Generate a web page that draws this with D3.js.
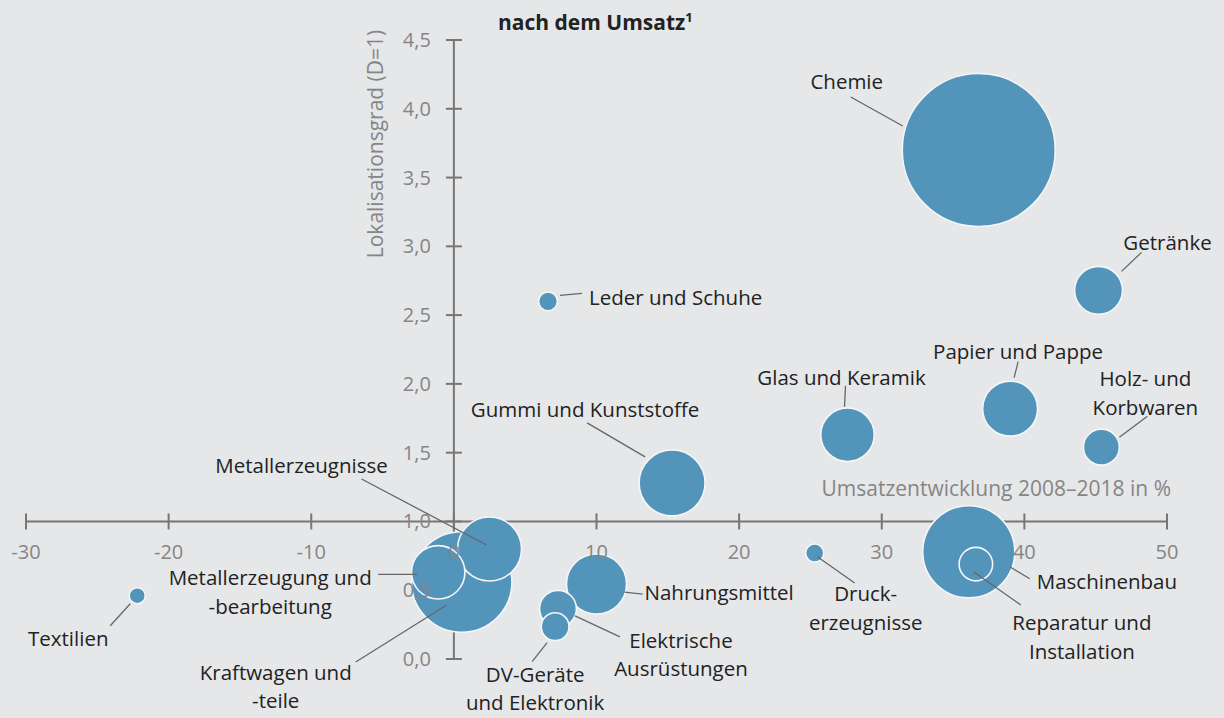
<!DOCTYPE html>
<html>
<head>
<meta charset="utf-8">
<script src="https://cdn.jsdelivr.net/npm/d3@7"></script>
<style>
	body { margin: 0; background: #e6e7e9; }
	svg { display: block; font-family: "Open Sans", "Noto Sans", sans-serif; }
	.axis-line { stroke: #767676; stroke-width: 2; fill: none; }
	.tick-label { fill: #858585; font-size: 20px; }
	.axis-title { fill: #858585; font-size: 21px; }
	.bubble { fill: #5394bb; stroke: #f4f6f8; stroke-width: 1.6; }
	.leader { stroke: #666; stroke-width: 1.3; }
	.label { fill: #222; font-size: 20.5px; }
	.title { fill: #222; font-size: 21px; font-weight: bold; }
</style>
</head>
<body>
<svg id="chart" width="1224" height="718"></svg>
<script>
// industries, sorted the way they appear in the chart
const industries = [
	"Chemie", "Getränke", "Leder und Schuhe", "Papier und Pappe", "Glas und Keramik",
	"Holz- und Korbwaren", "Gummi und Kunststoffe", "Metallerzeugnisse", "Kraftwagen und -teile",
	"Metallerzeugung und -bearbeitung", "Textilien", "Nahrungsmittel", "Elektrische Ausrüstungen",
	"DV-Geräte und Elektronik", "Druckerzeugnisse", "Maschinenbau", "Reparatur und Installation"
];

// Umsatzentwicklung 2008–2018 in %
const growth = [36.8, 45.2, 6.6, 39.0, 27.6, 45.4, 15.3, 2.5, 0.55, -1.1, -22.2, 10.0, 7.3, 7.1, 25.3, 36.1, 36.6];

// Lokalisationsgrad (D=1)
const localization = [3.70, 2.68, 2.60, 1.82, 1.63, 1.54, 1.28, 0.80, 0.56, 0.63, 0.46, 0.545, 0.365, 0.235, 0.77, 0.78, 0.69];

// relative Umsatz (bubble area)
const turnover = [100, 9.8, 1.5, 12.9, 12.2, 5.5, 18.6, 17.5, 43.1, 12.2, 1.1, 15.4, 5.8, 3.3, 1.4, 36.2, 4.8];

// label text lines
const labelLines = [
	["Chemie"], ["Getränke"], ["Leder und Schuhe"], ["Papier und Pappe"], ["Glas und Keramik"],
	["Holz- und", "Korbwaren"], ["Gummi und Kunststoffe"], ["Metallerzeugnisse"], ["Kraftwagen und", "-teile"],
	["Metallerzeugung und", "-bearbeitung"], ["Textilien"], ["Nahrungsmittel"], ["Elektrische", "Ausrüstungen"],
	["DV-Geräte", "und Elektronik"], ["Druck-", "erzeugnisse"], ["Maschinenbau"], ["Reparatur und", "Installation"]
];

const xTicks = [-30, -20, -10, 0, 10, 20, 30, 40, 50];
const yTicks = [0, 0.5, 1, 1.5, 2, 2.5, 3, 3.5, 4, 4.5];

// label placement relative to bubble centre (pixels): text offset, anchor, leader from/to
const labelLayout = {
	"Chemie": { dx: -132, dy: -61, anchor: "middle", leader: [-76, -24, -128, -53] },
	"Getränke": { dx: 69, dy: -40, anchor: "middle", leader: [23, -19, 43, -38] },
	"Leder und Schuhe": { dx: 41, dy: 4, anchor: "start", leader: [12, -6, 34, -8] },
	"Papier und Pappe": { dx: 8, dy: -50, anchor: "middle", leader: [4, -31, 8, -47] },
	"Glas und Keramik": { dx: -6, dy: -50, anchor: "middle", leader: [-3, -28, -2, -49] },
	"Holz- und Korbwaren": { dx: 44, dy: -61, anchor: "middle", leader: [18, -10, 46, -31] },
	"Gummi und Kunststoffe": { dx: -87, dy: -66, anchor: "middle", leader: [-27, -26, -85, -60] },
	"Metallerzeugnisse": { dx: -188, dy: -76, anchor: "middle", leader: [-3, -4, -128, -70] },
	"Kraftwagen und -teile": { dx: -186, dy: 98, anchor: "middle", leader: [-15, 23, -106, 80] },
	"Metallerzeugung und -bearbeitung": { dx: -168, dy: 13, anchor: "middle", leader: [-21, 2, -60, 2] },
	"Textilien": { dx: -69, dy: 50, anchor: "middle", leader: [-7, 8, -27, 30] },
	"Nahrungsmittel": { dx: 48, dy: 16, anchor: "start", leader: [28, 8, 46, 10] },
	"Elektrische Ausrüstungen": { dx: 123, dy: 39, anchor: "middle", leader: [17, 7, 62, 28] },
	"DV-Geräte und Elektronik": { dx: -20, dy: 55, anchor: "middle", leader: [-8, 16, -23, 35] },
	"Druckerzeugnisse": { dx: 51, dy: 48, anchor: "middle", leader: [3, 4, 40, 30] },
	"Maschinenbau": { dx: 68, dy: 37, anchor: "start", leader: [41, 15, 61, 27] },
	"Reparatur und Installation": { dx: 106, dy: 66, anchor: "middle", leader: [-2, 8, 45, 41] }
};

const width = 1224;
const height = 718;
const lineHeight = 28.5;

const svg = d3.select("#chart");

svg.append("rect")
	.attr("width", width)
	.attr("height", height)
	.attr("fill", "#e6e7e9");

const x = d3.scaleLinear()
	.domain([-30, 50])
	.range([26, 1167]);

const y = d3.scaleLinear()
	.domain([0, 4.5])
	.range([659, 40]);

const r = d3.scaleSqrt()
	.domain([0, d3.max(turnover)])
	.range([0, 76.5]);

const fmt = (v) => d3.format(".1f")(v).replace(".", ",");

// axis lines and tick marks (under the bubbles)
const axisGroup = svg.append("g").attr("class", "axis-group");

axisGroup.append("line")
	.attr("class", "axis-line")
	.attr("x1", x(-30)).attr("x2", x(50))
	.attr("y1", y(1)).attr("y2", y(1));

axisGroup.selectAll(".xtick")
	.data(xTicks)
	.join("line")
	.attr("class", "axis-line xtick")
	.attr("x1", (d) => x(d)).attr("x2", (d) => x(d))
	.attr("y1", y(1) - 8).attr("y2", y(1) + 8);

axisGroup.append("line")
	.attr("class", "axis-line")
	.attr("x1", x(0)).attr("x2", x(0))
	.attr("y1", y(0)).attr("y2", y(4.5));

axisGroup.selectAll(".ytick")
	.data(yTicks)
	.join("line")
	.attr("class", "axis-line ytick")
	.attr("x1", x(0) - 8).attr("x2", x(0) + 8)
	.attr("y1", (d) => y(d)).attr("y2", (d) => y(d));

// bubbles, large ones first
const rows = industries.map((name, i) => ({
	name,
	growth: growth[i],
	loc: localization[i],
	size: turnover[i],
	lines: labelLines[i]
}));

const order = d3.sort(rows, (a, b) => b.size - a.size);

svg.append("g")
	.attr("class", "bubble-group")
	.selectAll("circle")
	.data(order)
	.join("circle")
	.attr("class", "bubble")
	.attr("cx", (d) => x(d.growth))
	.attr("cy", (d) => y(d.loc))
	.attr("r", (d) => r(d.size));

// tick labels (drawn above bubbles)
const tickLabelGroup = svg.append("g").attr("class", "tick-label-group");

tickLabelGroup.selectAll(".xlabel")
	.data(xTicks)
	.join("text")
	.attr("class", "tick-label xlabel")
	.attr("x", (d) => x(d))
	.attr("y", y(1) + 38)
	.attr("text-anchor", "middle")
	.text((d) => d);

tickLabelGroup.selectAll(".ylabel")
	.data(yTicks)
	.join("text")
	.attr("class", "tick-label ylabel")
	.attr("x", x(0) - 23)
	.attr("y", (d) => y(d) + 7)
	.attr("text-anchor", "end")
	.text(fmt);

// axis titles
svg.append("text")
	.attr("class", "axis-title")
	.attr("x", x(50) + 4)
	.attr("y", y(1) - 25)
	.attr("text-anchor", "end")
	.text("Umsatzentwicklung 2008–2018 in %");

svg.append("text")
	.attr("class", "axis-title")
	.attr("transform", `translate(${x(0) - 71}, ${y(4.5) + 104}) rotate(-90)`)
	.attr("text-anchor", "middle")
	.text("Lokalisationsgrad (D=1)");

// title
const title = svg.append("text")
	.attr("class", "title")
	.attr("x", 498)
	.attr("y", 30);
title.append("tspan").text("nach dem Umsatz");
title.append("tspan")
	.attr("font-size", "13px")
	.attr("dy", -8)
	.text("1");

// leaders and labels
const labelGroup = svg.append("g").attr("class", "label-group");

rows.forEach((d) => {
	const lay = labelLayout[d.name];
	const cx = x(d.growth);
	const cy = y(d.loc);
	const [x1, y1, x2, y2] = lay.leader;

	labelGroup.append("line")
		.attr("class", "leader")
		.attr("x1", cx + x1).attr("y1", cy + y1)
		.attr("x2", cx + x2).attr("y2", cy + y2);

	const t = labelGroup.append("text")
		.attr("class", "label")
		.attr("text-anchor", lay.anchor)
		.attr("x", cx + lay.dx)
		.attr("y", cy + lay.dy);

	d.lines.forEach((line, i) => {
		t.append("tspan")
			.attr("x", cx + lay.dx)
			.attr("dy", i === 0 ? 0 : lineHeight)
			.text(line);
	});
});
</script>
</body>
</html>
